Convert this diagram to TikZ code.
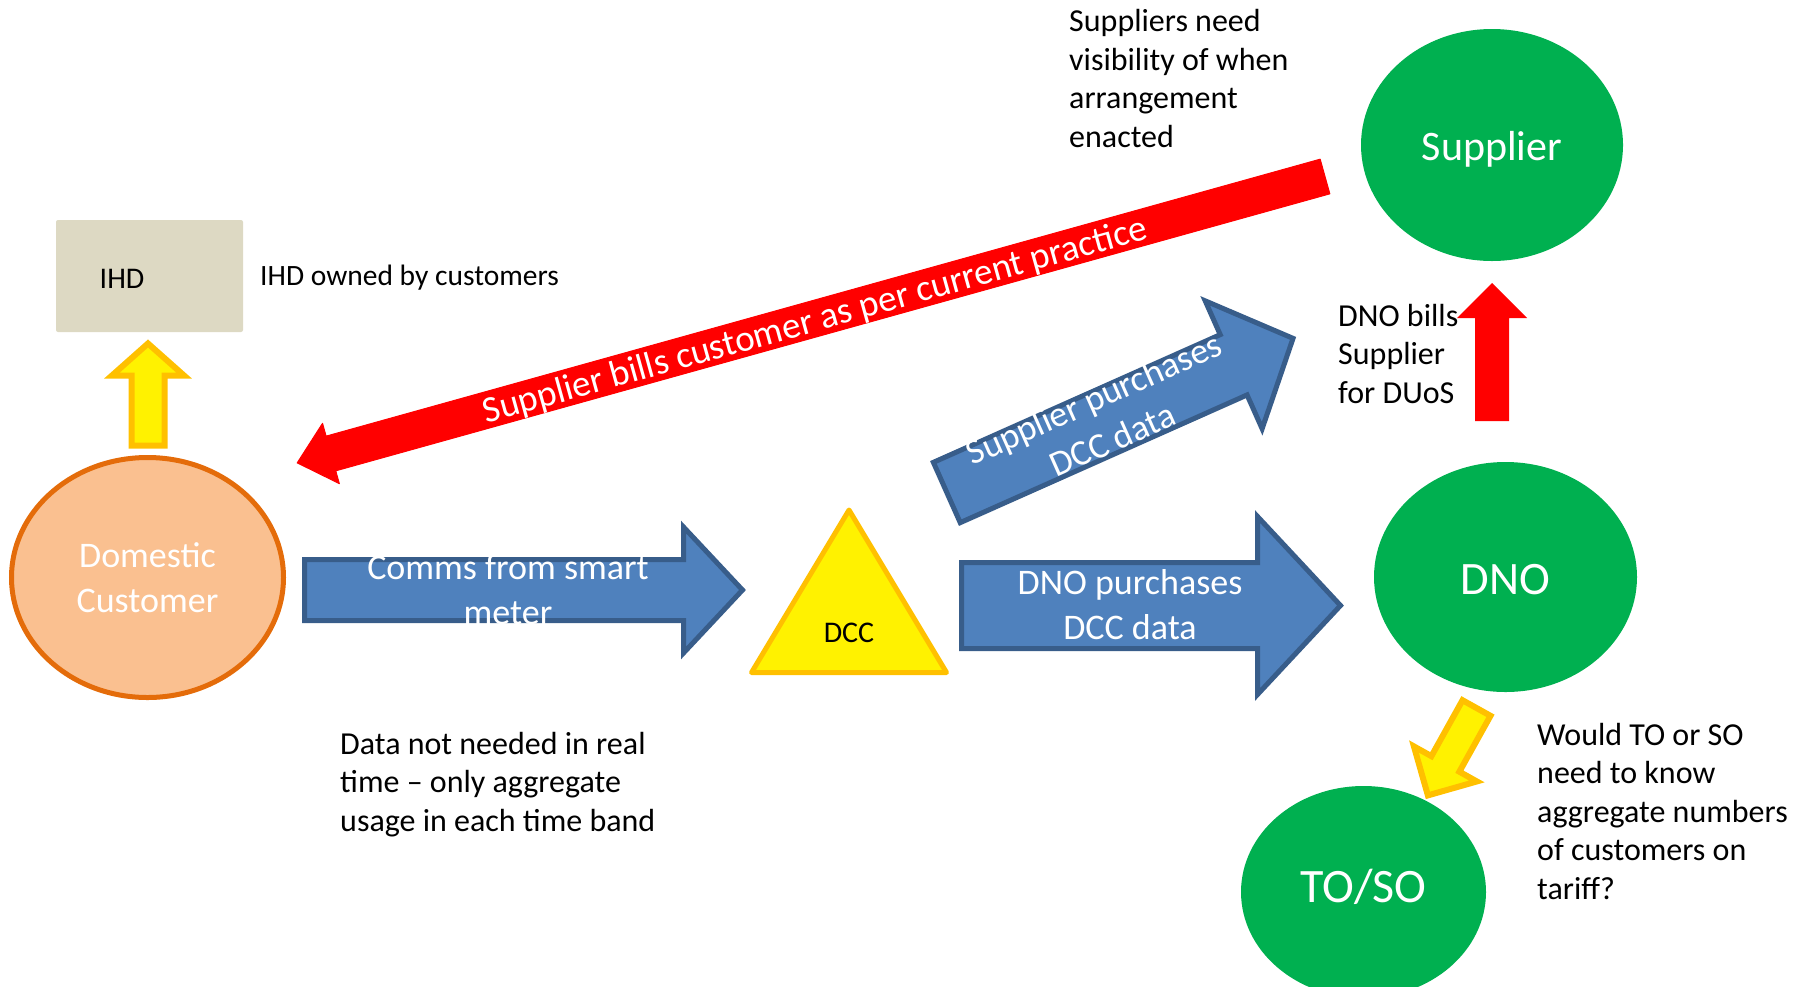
\documentclass[tikz,border=0pt]{standalone}
\usepackage{fontspec}
\setmainfont{Carlito}
\usetikzlibrary{shapes.geometric}

\definecolor{blockblue}{HTML}{4F81BD}
\definecolor{blockedge}{HTML}{385D8A}
\definecolor{partygreen}{HTML}{00B050}
\definecolor{gold}{HTML}{FFC000}
\definecolor{peach}{HTML}{FAC090}
\definecolor{peachedge}{HTML}{E46C0A}
\definecolor{ihdtan}{HTML}{DDD9C3}

% Block arrow: #1 style, #2 tail midpoint, #3 direction (deg),
% #4 total length, #5 shaft half width, #6 head half width, #7 head length
\newcommand\drawblockarrow[7]{%
  \path[#1, shift={#2}, rotate=#3]
    (0,-#5) -- ({#4-#7},-#5) -- ({#4-#7},-#6) -- (#4,0)
    -- ({#4-#7},#6) -- ({#4-#7},#5) -- (0,#5) -- cycle;}

% Text whose baseline sits #1 below the node centre
\newcommand\basedrop[2]{\raisebox{-#1}[0pt][0pt]{#2}}

\begin{document}
\begin{tikzpicture}[x=1pt, y=-1pt,
  note/.style={anchor=north west, inner sep=0pt, align=left,
    font=\fontsize{32}{38.5}\selectfont},
  whitelabel/.style={text=white, align=center, inner sep=0pt,
    font=\fontsize{36}{45}\selectfont},
  party/.style={ellipse, fill=partygreen, text=white, inner sep=0pt},
  bluearrow/.style={fill=blockblue, draw=blockedge, line width=5pt},
  yellowarrow/.style={fill=yellow, draw=gold, line width=6pt},
  redarrow/.style={fill=red, draw=red, line width=1pt, line join=round}]

\useasboundingbox (0,0) rectangle (1806,986);
\clip (0,0) rectangle (1806,986);

% ---- parties ----
\node[party, minimum width=262pt, minimum height=232pt,
  font=\fontsize{42}{50}\selectfont] (supplier) at (1492,145)
  {\basedrop{15pt}{Supplier}};
\node[party, minimum width=263pt, minimum height=230pt,
  font=\fontsize{46.5}{55}\selectfont] (dno) at (1505.5,577)
  {\basedrop{17pt}{DNO}};
\node[party, minimum width=245pt, minimum height=212pt,
  font=\fontsize{48}{57}\selectfont] (toso) at (1363.5,892)
  {\basedrop{10pt}{TO/SO}};
\node[ellipse, fill=peach, draw=peachedge, line width=5pt,
  minimum width=272pt, minimum height=240pt, inner sep=0pt, text=white,
  align=center, font=\fontsize{36}{45}\selectfont]
  (customer) at (147.5,577.5) {Domestic\\Customer};
\node[fill=ihdtan, minimum width=187pt, minimum height=112pt,
  inner sep=0pt, rounded corners=2pt] (ihd) at (149.5,276) {};
\node[anchor=west, inner sep=0pt, font=\fontsize{30}{36}\selectfont]
  (ihdname) at (99.5,279) {IHD};

% DCC triangle
\coordinate (dccTop) at (849,510);
\coordinate (dccRight) at (946.5,672.5);
\coordinate (dccLeft) at (751.5,672.5);
\draw[fill=yellow, draw=gold, line width=5pt, line join=round]
  (dccTop) -- (dccRight) -- (dccLeft) -- cycle;
\node[anchor=base, inner sep=0pt, font=\fontsize{30}{36}\selectfont]
  (dcc) at (849,642) {DCC};

% ---- block arrows ----
\coordinate (ihdTail) at (148,445.5);
\drawblockarrow{yellowarrow}{(ihdTail)}{90}{102}{16.5}{36}{32}

\coordinate (billsTail) at (1325,176.5);
\drawblockarrow{redarrow}{(billsTail)}{195.57}{1067}{18}{31.3}{35}

\coordinate (commsTail) at (304.5,590);
\drawblockarrow{bluearrow}{(commsTail)}{0}{438}{30.5}{63}{59}

\coordinate (dnoBuyTail) at (961.5,605.5);
\drawblockarrow{bluearrow}{(dnoBuyTail)}{0}{379}{43}{89}{83}

\coordinate (supBuyTail) at (946.8,492.5);
\drawblockarrow{bluearrow}{(supBuyTail)}{24}{379}{33}{70}{65}

\coordinate (duosTail) at (1492,421);
\drawblockarrow{fill=red}{(duosTail)}{90}{138}{17}{35}{35}

\coordinate (tosoTail) at (1476.5,708);
\drawblockarrow{yellowarrow}{(tosoTail)}{240.9}{100}{16}{36}{36}

% ---- arrow labels ----
\node[whitelabel, anchor=base, rotate=15.57,
  font=\fontsize{37}{45}\selectfont] (billsLabel) at (818,331)
  {Supplier bills customer as per current practice};
\node[whitelabel] (commsLabel) at (508,590) {Comms from smart\\meter};
\node[whitelabel] (dnoBuyLabel) at (1130,605) {DNO purchases\\DCC data};
\node[whitelabel, rotate=24] (supBuyLabel) at (1103,419)
  {Supplier purchases\\DCC data};

% ---- notes ----
\node[note, font=\fontsize{29.5}{36}\selectfont] (ihdNote) at (260,260)
  {\strut IHD owned by customers};
\node[note] (supNote) at (1069,4.5)
  {\strut Suppliers need\\visibility of when\\arrangement\\enacted};
\node[note] (duosNote) at (1338,299) {\strut DNO bills\\Supplier\\for DUoS};
\node[note] (dataNote) at (340,727)
  {\strut Data not needed in real\\time – only aggregate\\usage in each time band};
\node[note] (tosoNote) at (1537,718)
  {\strut Would TO or SO\\need to know\\aggregate numbers\\of customers on\\tariff?};

\end{tikzpicture}
\end{document}
